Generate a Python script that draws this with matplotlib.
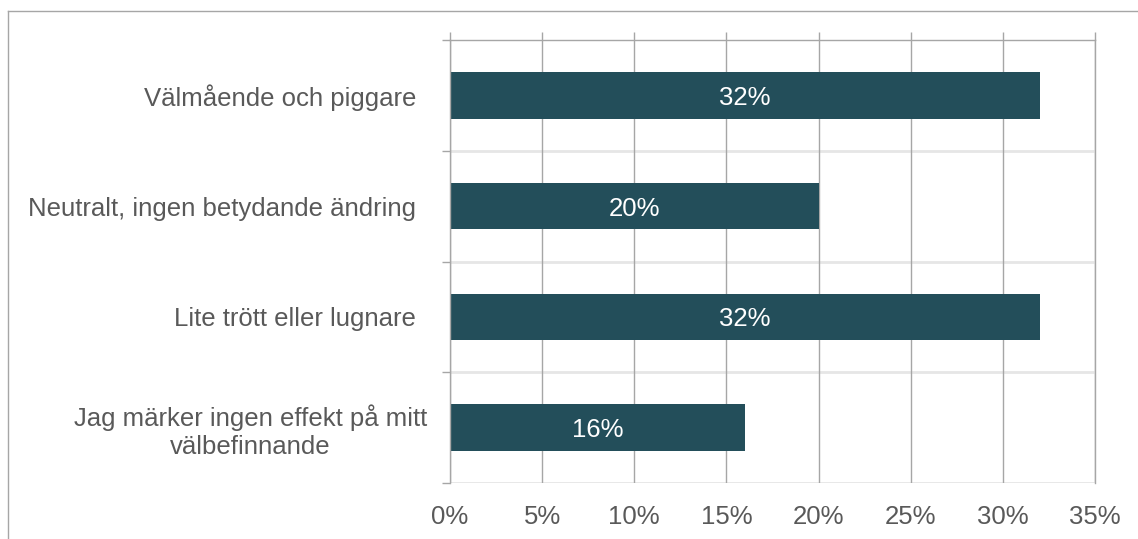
import matplotlib
matplotlib.use("Agg")
import matplotlib.pyplot as plt
from matplotlib.lines import Line2D
from matplotlib.transforms import blended_transform_factory, ScaledTranslation

categories = ["Välmående och piggare",
              "Neutralt, ingen betydande ändring",
              "Lite trött eller lugnare",
              "Jag märker ingen effekt på mitt\nvälbefinnande"]
values = [32, 20, 32, 16]
xticks = [0, 5, 10, 15, 20, 25, 30, 35]
xticklabels = ["0%", "5%", "10%", "15%", "20%", "25%", "30%", "35%"]

plt.rcParams['font.family'] = ['Liberation Sans', 'DejaVu Sans']

W, H = 1138, 539
fig = plt.figure(figsize=(W / 100, H / 100), dpi=100)
left, right, top, bottom = 450, 1095, 40, 483
ax = fig.add_axes([left / W, (H - bottom) / H, (right - left) / W, (bottom - top) / H])

bar_color = "#234e5a"
grid_color = "#a6a6a6"
light_color = "#e6e6e6"
text_color = "#595959"
fs = 18.5
px = 0.72  # points per pixel at 100 dpi

y = list(range(len(categories)))
ax.barh(y, values, height=0.42, color=bar_color, zorder=3)
for yi, v in zip(y, values):
    ax.text(v / 2, yi, f"{v}%", ha="center", va="center_baseline", color="white",
            fontsize=fs, zorder=4)

ax.set_xlim(0, 35)
ax.set_ylim(len(categories) - 0.5, -0.5)

ax.set_xticks(xticks)
ax.set_xticklabels(xticklabels, fontsize=fs, color=text_color)
ax.xaxis.grid(True, color=grid_color, linewidth=1.0, zorder=0)
ax.tick_params(axis="x", which="major", top=True, bottom=False, length=8 * px,
               color=grid_color, width=1.0, direction="out", pad=14 * px)
ax.axvline(35, color=grid_color, linewidth=1.0, zorder=0, clip_on=False)

ax.set_yticks([yi - 0.5 for yi in y] + [len(categories) - 0.5])
ax.set_yticklabels([])
ax.tick_params(axis="y", which="major", length=8 * px, color=grid_color, width=1.0)

# category labels (multi-line label block sits slightly further right, as in the source)
trans = blended_transform_factory(ax.transAxes, ax.transData)
for yi, cat in zip(y, categories):
    gap = 23 if "\n" in cat else 34
    t = trans + ScaledTranslation(-gap / 100, 0, fig.dpi_scale_trans)
    ax.text(0, yi, cat, transform=t, ha="right", va="center_baseline", fontsize=fs,
            color=text_color, multialignment="center", clip_on=False)

for b in range(1, len(categories) + 1):
    ax.axhline(b - 0.5, color=light_color, linewidth=2.0, zorder=1)

for s in ["right", "bottom"]:
    ax.spines[s].set_visible(False)
ax.spines["left"].set_color(grid_color)
ax.spines["left"].set_linewidth(1.0)
ax.spines["left"].set_zorder(5)
ax.spines["top"].set_color(grid_color)
ax.spines["top"].set_linewidth(1.0)

# outer frame (top and left)
fig.add_artist(Line2D([8 / W, 1137 / W], [(H - 11) / H, (H - 11) / H],
                      transform=fig.transFigure, color=grid_color, linewidth=1.0))
fig.add_artist(Line2D([8 / W, 8 / W], [(H - 11) / H, 0],
                      transform=fig.transFigure, color=grid_color, linewidth=1.0))

fig.savefig("out.png", dpi=100, facecolor="white")
